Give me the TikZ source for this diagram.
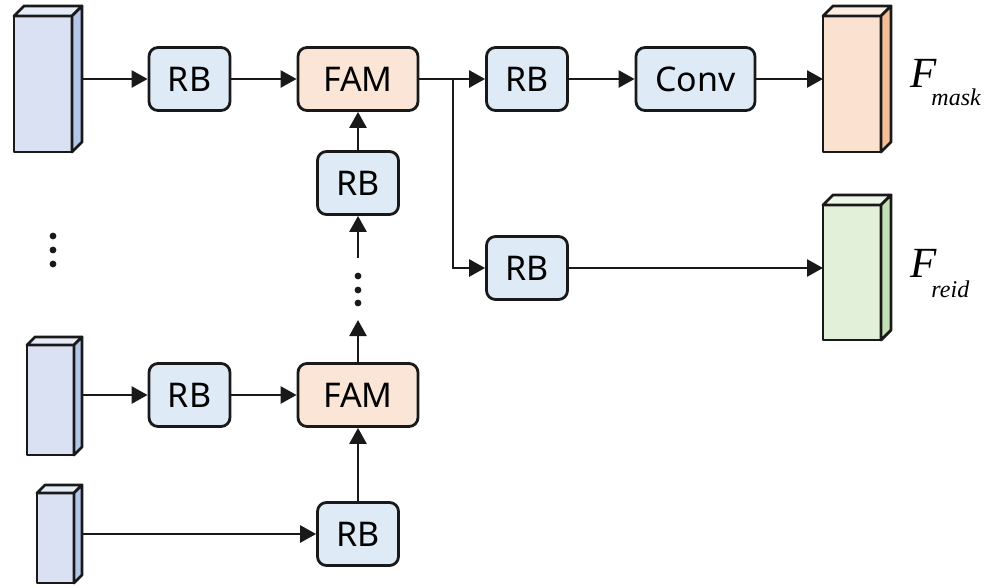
\documentclass[tikz,border=0pt]{standalone}
\usepackage{fontspec}
\setmainfont{Liberation Serif}
\newfontfamily\boxfont{Noto Sans}
\usetikzlibrary{arrows.meta}
\definecolor{rbfill}{HTML}{DEEBF7}
\definecolor{famfill}{HTML}{FBE5D6}
\definecolor{bluefront}{HTML}{DAE1F3}
\definecolor{blueside}{HTML}{B4C7E7}
\definecolor{bluetop}{HTML}{E6ECF7}
\definecolor{orfront}{HTML}{FBE2D0}
\definecolor{orside}{HTML}{F4BE97}
\definecolor{ortop}{HTML}{FDEEE3}
\definecolor{grfront}{HTML}{E2F0D9}
\definecolor{grside}{HTML}{C5E0B4}
\definecolor{grtop}{HTML}{EEF6E9}
\tikzset{
  cubeline/.style={draw=black!90, line width=2.8pt, line join=round},
  cubefront/.style={cubeline, rectangle, inner sep=0pt, outer sep=0pt},
  blk/.style={draw=black!90, line width=2.8pt, rounded corners=9pt, minimum width=81pt, minimum height=63pt, inner sep=0pt, font=\boxfont\fontsize{34}{34}\selectfont},
  rbbox/.style={blk, fill=rbfill},
  fambox/.style={blk, fill=famfill, minimum width=120pt},
  arr/.style={line width=2.6pt, draw=black!90, -{Triangle[length=16pt,width=17pt]}},
  lbl/.style={anchor=base west, inner sep=0pt, font=\fontsize{43}{43}\selectfont\itshape}
}
\newcommand{\mycuboid}[7]{%
  \node[cubefront, fill=#6front, minimum width=#4pt, minimum height=#5pt] (#1) at (#2,#3) {};
  \draw[cubeline, fill=#6top] (#1.north west) -- ++(#7,-#7) -- ++(#4,0) -- (#1.north east) -- cycle;
  \draw[cubeline, fill=#6side] (#1.north east) -- ++(#7,-#7) -- ++(0,#5) -- (#1.south east) -- cycle;
}
\begin{document}
\begin{tikzpicture}[x=1pt,y=-1pt]
\useasboundingbox (0,0) rectangle (990,587);
% input / output cuboids
\mycuboid{in1}{43}{84}{58}{136}{blue}{10}
\mycuboid{in2}{50.5}{400}{47}{110}{blue}{8}
\mycuboid{in3}{55.5}{538}{37}{90}{blue}{8}
\mycuboid{outmask}{852}{84}{58}{136}{or}{10}
\mycuboid{outreid}{852}{272.5}{58}{135}{gr}{10}
% boxes
\node[rbbox] (rb1) at (189.5,79) {RB};
\node[fambox] (fam1) at (358,79) {FAM};
\node[rbbox] (rbt) at (527,79) {RB};
\node[rbbox, minimum width=119pt] (conv) at (695.5,79) {Conv};
\node[rbbox] (rb2) at (358,183) {RB};
\node[rbbox] (rbm) at (527,268) {RB};
\node[fambox] (fam2) at (358,395) {FAM};
\node[rbbox] (rb3) at (189.5,395) {RB};
\node[rbbox] (rb4) at (358,534) {RB};
% labels
\node[lbl] (lmask) at (910,87) {F\kern-5pt\raisebox{-18pt}{\fontsize{24}{24}\selectfont mask}};
\node[lbl] (lreid) at (910,277) {F\kern-5pt\raisebox{-20pt}{\fontsize{24}{24}\selectfont reid}};
% helper coordinates
\path (in1.east |- rb1.west) ++(10,0) coordinate (in1o);
\path (in2.east |- rb3.west) ++(8,0) coordinate (in2o);
\path (in3.east |- rb4.west) ++(8,0) coordinate (in3o);
\coordinate (br) at (453,79);
\coordinate (dtop) at (358,258);
\coordinate (dbot) at (358,320);
% connectors
\draw[arr] (in1o) -- (rb1.west);
\draw[arr] (rb1.east) -- (fam1.west);
\draw[arr] (fam1.east) -- (rbt.west);
\draw[arr] (rbt.east) -- (conv.west);
\draw[arr] (conv.east) -- (outmask.west |- conv.east);
\draw[arr] (br) |- (rbm.west);
\draw[arr] (rbm.east) -- (outreid.west |- rbm.east);
\draw[arr] (rb2.north) -- (fam1.south);
\draw[arr] (dtop) -- (rb2.south);
\draw[arr] (fam2.north) -- (dbot);
\draw[arr] (in2o) -- (rb3.west);
\draw[arr] (rb3.east) -- (fam2.west);
\draw[arr] (in3o) -- (rb4.west);
\draw[arr] (rb4.north) -- (fam2.south);
% dots
\foreach \yy in {276,290,303} \fill[black!90] (358,\yy) circle[radius=3.4pt];
\foreach \yy in {236,250,264} \fill[black!90] (53,\yy) circle[radius=3.4pt];
\end{tikzpicture}
\end{document}
